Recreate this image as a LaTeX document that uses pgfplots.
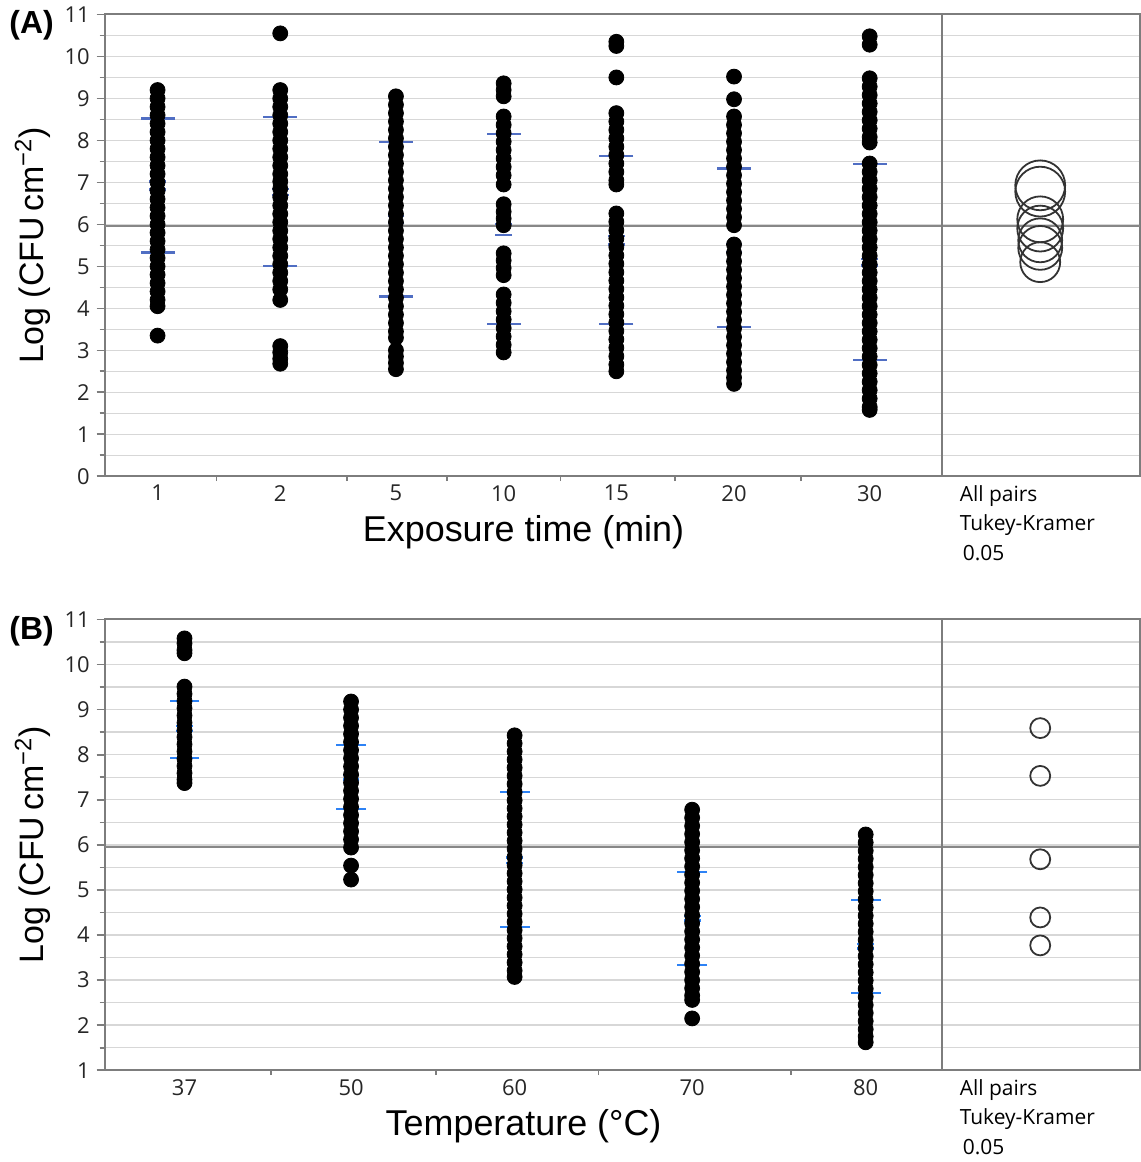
\documentclass[border=0pt]{standalone}
\usepackage{fontspec}
\setmainfont{Liberation Sans}
\newfontfamily\segoe{Open Sans}
\usepackage{pgfplots}
\pgfplotsset{compat=1.18}

\definecolor{sdblueA}{RGB}{80,110,195}
\definecolor{sdblueB}{RGB}{45,130,245}
\definecolor{framegray}{RGB}{125,125,125}
\definecolor{gridgray}{RGB}{215,215,215}
\definecolor{meangray}{RGB}{135,135,135}

\pgfplotsset{
  jmp/.style={
    scale only axis,
    clip=false,
    width=519pt,
    xmin=105, xmax=1143,
    axis line style={framegray, line width=1pt},
    tick align=outside,
    xtick pos=bottom, ytick pos=left,
    major tick length=4pt, minor tick length=2.5pt,
    every tick/.style={framegray, line width=0.8pt},
    major x tick style={draw=none},
    ymajorgrids, yminorgrids, minor y tick num=1,
    major grid style={gridgray, line width=0.7pt},
    minor grid style={gridgray, line width=0.7pt},
    tick label style={font=\segoe\fontsize{11}{13}\selectfont, text=black!85},
    xticklabel style={yshift=3pt},
    /pgf/number format/assume math mode=true,
    ylabel={Log (CFU\,cm\textsuperscript{−2})},
    ylabel style={font=\fontsize{17}{20}\selectfont},
    xlabel style={font=\fontsize{18}{21}\selectfont, at={(ticklabel cs:0.4046)}, anchor=near ticklabel},
  },
  dots/.style={only marks, mark=*, mark size=3.75pt, black},
  sdline/.style={only marks, mark=-, mark size=#1, mark options={line width=1.1pt}},
  circ/.style={scatter, only marks, mark=o,
    scatter/use mapped color={draw=black!80, fill=none},
    mark options={line width=0.9pt},
    visualization depends on={\thisrow{r} \as \rr},
    scatter/@pre marker code/.append style={/tikz/mark size=\rr}},
}
\tikzset{
  tukey/.style={font=\segoe\fontsize{10.5}{14.75}\selectfont, anchor=north west,
    align=left, inner sep=0pt, yshift=-4.5pt},
  panel/.style={font=\bfseries\fontsize{16}{16}\selectfont, anchor=east, xshift=-22pt},
}

\begin{document}
\begin{tikzpicture}
% ---------------- panel A: exposure time ----------------
\begin{axis}[jmp,
  at={(0,0)}, anchor=north west,
  height=231.5pt,
  ymin=0, ymax=11, ytick={0,1,...,11},
  xtick={158,281,397,505,618,736,872},
  xticklabels={1,2,5,10,15,20,30},
  minor xtick={217,348,448,562,677,803},
  xlabel={Exposure time (min)},
]
\addplot[meangray, line width=1pt] coordinates {(105,5.97) (1143,5.97)};
\addplot[framegray, line width=1pt] coordinates {(945,0) (945,11)};
% mean +/- sd
\addplot[sdline=8.5pt, sdblueA] coordinates {
 (158,8.52) (158,5.33) (281,8.55) (281,5.00) (397,7.97) (397,4.28)
 (505,8.16) (505,3.62) (618,7.62) (618,3.62) (736,7.33) (736,3.55)
 (872,7.43) (872,2.76)};
\addplot[sdline=4.2pt, sdblueA] coordinates {
 (158,7.02) (158,6.83) (281,6.85) (281,6.70) (397,6.20) (397,6.04)
 (505,6.00) (505,5.75) (618,5.72) (618,5.52) (736,5.54) (736,5.34)
 (872,5.17) (872,5.02)};
% 1 min
\addplot[dots] coordinates {
 (158,9.20) (158,9.00) (158,8.80) (158,8.60) (158,8.40) (158,8.20) (158,8.00)
 (158,7.80) (158,7.60) (158,7.40) (158,7.20) (158,7.00) (158,6.80) (158,6.60)
 (158,6.40) (158,6.20) (158,6.00) (158,5.80) (158,5.60) (158,5.40) (158,5.20)
 (158,5.00) (158,4.80) (158,4.60) (158,4.40) (158,4.20) (158,4.05) (158,3.35)};
% 2 min
\addplot[dots] coordinates {
 (281,10.55) (281,9.20) (281,9.00) (281,8.80) (281,8.60) (281,8.40) (281,8.20)
 (281,8.00) (281,7.80) (281,7.60) (281,7.40) (281,7.20) (281,7.02) (281,6.85)
 (281,6.65) (281,6.45) (281,6.25) (281,6.05) (281,5.85) (281,5.65) (281,5.45)
 (281,5.25) (281,5.05) (281,4.85) (281,4.65) (281,4.45) (281,4.20)
 (281,3.10) (281,2.95) (281,2.80) (281,2.68)};
% 5 min
\addplot[dots] coordinates {
 (397,9.05) (397,8.85) (397,8.65) (397,8.45) (397,8.25) (397,8.05) (397,7.85)
 (397,7.65) (397,7.45) (397,7.25) (397,7.05) (397,6.85) (397,6.65) (397,6.45)
 (397,6.25) (397,6.05) (397,5.85) (397,5.65) (397,5.45) (397,5.25) (397,5.05)
 (397,4.85) (397,4.65) (397,4.45) (397,4.25) (397,4.05) (397,3.85) (397,3.65)
 (397,3.45) (397,3.30) (397,3.00) (397,2.85) (397,2.70) (397,2.55)};
% 10 min
\addplot[dots] coordinates {
 (505,9.36) (505,9.20) (505,9.05) (505,8.57) (505,8.37) (505,8.17) (505,7.97)
 (505,7.77) (505,7.57) (505,7.37) (505,7.17) (505,6.95) (505,6.48) (505,6.30)
 (505,6.14) (505,5.98) (505,5.31) (505,5.14) (505,4.96) (505,4.79) (505,4.33)
 (505,4.13) (505,3.93) (505,3.73) (505,3.53) (505,3.33) (505,3.13) (505,2.95)};
% 15 min
\addplot[dots] coordinates {
 (618,10.35) (618,10.25) (618,9.50) (618,8.65) (618,8.45) (618,8.25) (618,8.05)
 (618,7.85) (618,7.65) (618,7.45) (618,7.25) (618,7.05) (618,6.95) (618,6.26)
 (618,6.06) (618,5.86) (618,5.66) (618,5.46) (618,5.26) (618,5.06) (618,4.86)
 (618,4.66) (618,4.46) (618,4.26) (618,4.06) (618,3.86) (618,3.66) (618,3.46)
 (618,3.26) (618,3.06) (618,2.86) (618,2.66) (618,2.50)};
% 20 min
\addplot[dots] coordinates {
 (736,9.52) (736,8.98) (736,8.57) (736,8.37) (736,8.17) (736,7.97) (736,7.77)
 (736,7.57) (736,7.37) (736,7.17) (736,6.97) (736,6.77) (736,6.57) (736,6.37)
 (736,6.17) (736,5.98) (736,5.52) (736,5.32) (736,5.12) (736,4.92) (736,4.72)
 (736,4.52) (736,4.32) (736,4.12) (736,3.92) (736,3.72) (736,3.52) (736,3.32)
 (736,3.12) (736,2.92) (736,2.72) (736,2.52) (736,2.35) (736,2.20)};
% 30 min
\addplot[dots] coordinates {
 (872,10.48) (872,10.28) (872,9.48) (872,9.28) (872,9.08) (872,8.88) (872,8.68)
 (872,8.48) (872,8.28) (872,8.08) (872,7.95) (872,7.45) (872,7.25) (872,7.05)
 (872,6.85) (872,6.65) (872,6.45) (872,6.25) (872,6.05) (872,5.85) (872,5.65)
 (872,5.45) (872,5.25) (872,5.05) (872,4.85) (872,4.65) (872,4.45) (872,4.25)
 (872,4.05) (872,3.85) (872,3.65) (872,3.45) (872,3.25) (872,3.05) (872,2.85)
 (872,2.65) (872,2.45) (872,2.25) (872,2.05) (872,1.85) (872,1.65) (872,1.58)};
% comparison circles
\addplot[circ] table {
x y r
1043 6.93 12.5
1043 6.78 12.5
1043 6.12 11.5
1043 5.90 11.5
1043 5.62 11
1043 5.44 11
1043 5.10 10
};
\node[panel, yshift=-5.5pt] at (rel axis cs:0,1) {(A)};
\node[tukey] at (rel axis cs:0.8256,0) {All pairs\\Tukey-Kramer\\\hspace{1.5pt}0.05};
\coordinate (topleft) at (rel axis cs:0,1);
\end{axis}

% ---------------- panel B: temperature ----------------
\begin{axis}[jmp,
  at={(0,-303.3pt)}, anchor=north west,
  height=226pt,
  ymin=1, ymax=11, ytick={1,2,...,11},
  xtick={185,352,516,694,868},
  xticklabels={37,50,60,70,80},
  minor xtick={272,437,600,793},
  xlabel={Temperature (°C)},
]
\addplot[meangray, line width=1pt] coordinates {(105,5.96) (1143,5.96)};
\addplot[framegray, line width=1pt] coordinates {(945,1) (945,11)};
\addplot[sdline=7.5pt, sdblueB] coordinates {
 (185,9.20) (185,7.92) (352,8.21) (352,6.80) (516,7.17) (516,4.17)
 (694,5.39) (694,3.34) (868,4.77) (868,2.72)};
\addplot[sdline=4.2pt, sdblueB] coordinates {
 (185,8.63) (185,8.52) (352,7.55) (352,7.45) (516,5.72) (516,5.60)
 (694,4.42) (694,4.32) (868,3.80) (868,3.70)};
% 37 C
\addplot[dots] coordinates {
 (185,10.58) (185,10.47) (185,10.32) (185,10.25) (185,9.51) (185,9.35) (185,9.19)
 (185,9.03) (185,8.87) (185,8.71) (185,8.55) (185,8.39) (185,8.23) (185,8.07)
 (185,7.91) (185,7.75) (185,7.59) (185,7.45) (185,7.37)};
% 50 C
\addplot[dots] coordinates {
 (352,9.18) (352,9.00) (352,8.82) (352,8.64) (352,8.46) (352,8.28) (352,8.10)
 (352,7.92) (352,7.74) (352,7.56) (352,7.38) (352,7.20) (352,7.02) (352,6.84)
 (352,6.66) (352,6.48) (352,6.30) (352,6.12) (352,5.94) (352,5.54) (352,5.23)};
% 60 C
\addplot[dots] coordinates {
 (516,8.43) (516,8.25) (516,8.07) (516,7.89) (516,7.71) (516,7.53) (516,7.35)
 (516,7.17) (516,6.99) (516,6.81) (516,6.63) (516,6.45) (516,6.27) (516,6.09)
 (516,5.91) (516,5.73) (516,5.55) (516,5.37) (516,5.19) (516,5.01) (516,4.83)
 (516,4.65) (516,4.47) (516,4.29) (516,4.11) (516,3.93) (516,3.75) (516,3.57)
 (516,3.39) (516,3.21) (516,3.07)};
% 70 C
\addplot[dots] coordinates {
 (694,6.78) (694,6.60) (694,6.42) (694,6.24) (694,6.06) (694,5.88) (694,5.70)
 (694,5.52) (694,5.34) (694,5.16) (694,4.98) (694,4.80) (694,4.62) (694,4.44)
 (694,4.26) (694,4.08) (694,3.90) (694,3.72) (694,3.54) (694,3.36) (694,3.18)
 (694,3.00) (694,2.82) (694,2.66) (694,2.56) (694,2.15)};
% 80 C
\addplot[dots] coordinates {
 (868,6.23) (868,6.05) (868,5.87) (868,5.69) (868,5.51) (868,5.33) (868,5.15)
 (868,4.97) (868,4.79) (868,4.61) (868,4.43) (868,4.25) (868,4.07) (868,3.89)
 (868,3.71) (868,3.53) (868,3.35) (868,3.17) (868,2.99) (868,2.81) (868,2.63)
 (868,2.45) (868,2.27) (868,2.09) (868,1.91) (868,1.75) (868,1.62)};
\addplot[circ] table {
x y r
1043 8.59 5
1043 7.53 5
1043 5.68 5
1043 4.39 5
1043 3.77 5
};
\node[panel, yshift=-6pt] at (rel axis cs:0,1) {(B)};
\node[tukey] at (rel axis cs:0.8256,0) {All pairs\\Tukey-Kramer\\\hspace{1.5pt}0.05};
\coordinate (botleft) at (rel axis cs:0,0);
\end{axis}
% white margins, as in the reference
\path (topleft) ++(-52.5pt,0pt);
\path (botleft) ++(0pt,-46pt);
\end{tikzpicture}
\end{document}
